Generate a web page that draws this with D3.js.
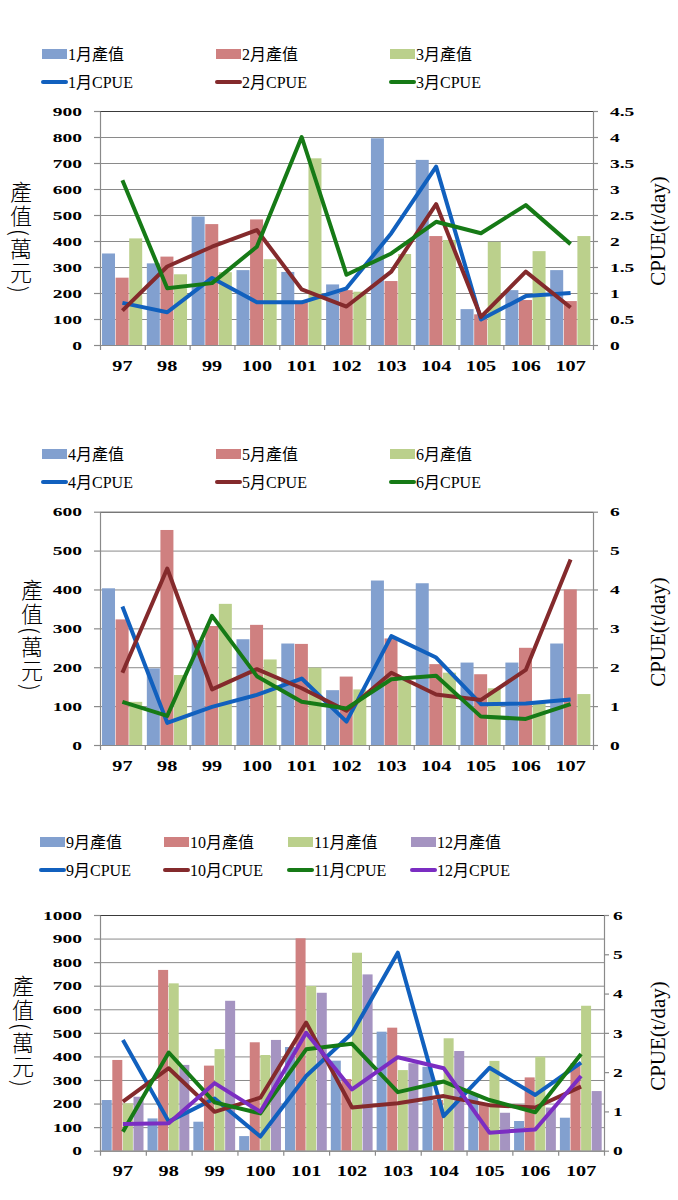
<!DOCTYPE html>
<html><head><meta charset="utf-8">
<script src="https://cdn.jsdelivr.net/npm/d3@7/dist/d3.min.js"></script>
<style>
body{margin:0;background:#fff;}
text{font-family:"Liberation Serif","Noto Sans CJK TC",serif;fill:#000;}
</style></head>
<body>
<script>
const years = ["97","98","99","100","101","102","103","104","105","106","107"];

// Chart 1 (Jan-Mar)
const val1 = [352,314,494,288,281,233,795,712,138,211,288];
const val2 = [259,340,465,483,165,211,246,419,118,173,169];
const val3 = [410,272,280,330,718,205,350,404,397,361,419];
const cpue1 = [0.81,0.63,1.29,0.82,0.82,1.09,2.15,3.43,0.49,0.94,1.00];
const cpue2 = [0.66,1.51,1.89,2.21,1.07,0.74,1.41,2.71,0.54,1.41,0.72];
const cpue3 = [3.17,1.09,1.19,1.89,4.00,1.35,1.76,2.37,2.15,2.69,1.94];

// Chart 2 (Apr-Jun)
const val4 = [403,197,270,272,261,141,423,416,212,212,261];
const val5 = [323,553,306,309,260,176,274,208,182,250,400];
const val6 = [111,180,363,220,199,143,165,186,146,110,131];
const cpue4 = [3.56,0.57,0.98,1.29,1.71,0.60,2.80,2.25,1.05,1.07,1.17];
const cpue5 = [1.86,4.54,1.43,1.95,1.46,0.88,1.86,1.30,1.16,1.93,4.77];
const cpue6 = [1.11,0.75,3.32,1.77,1.11,0.94,1.69,1.78,0.73,0.67,1.05];

// Chart 3 (Sep-Dec)
const val9  = [215,137,123,62,440,382,505,356,240,126,140];
const val10 = [385,767,361,460,901,304,522,215,200,311,371];
const val11 = [201,710,431,406,699,840,342,477,381,399,615];
const val12 = [229,364,636,470,670,748,371,423,161,183,253];
const cpue9  = [2.82,0.74,1.33,0.36,1.90,2.99,5.04,0.88,2.11,1.42,2.24];
const cpue10 = [1.25,2.10,0.99,1.35,3.26,1.10,1.21,1.39,1.16,1.10,1.63];
const cpue11 = [0.48,2.50,1.23,0.95,2.58,2.72,1.49,1.76,1.29,0.98,2.46];
const cpue12 = [0.68,0.70,1.72,0.99,3.00,1.56,2.38,2.10,0.46,0.54,1.90];

const barLabels1 = ["1月產值","2月產值","3月產值"];
const lineLabels1 = ["1月CPUE","2月CPUE","3月CPUE"];
const barLabels2 = ["4月產值","5月產值","6月產值"];
const lineLabels2 = ["4月CPUE","5月CPUE","6月CPUE"];
const barLabels3 = ["9月產值","10月產值","11月產值","12月產值"];
const lineLabels3 = ["9月CPUE","10月CPUE","11月CPUE","12月CPUE"];
const leftTitle = "產值(萬元)";
const rightTitle = "CPUE(t/day)";

const barColors = ["#82A0CF","#CF8080","#BBD08C","#A594C1"];
const lineColors = ["#1160BE","#842A2C","#167A16","#7B2DC2"];

const svg = d3.select("body").append("svg").attr("width",678).attr("height",1200);

function stretchedText(g, x, y, str, opts){
  const gg = g.append("g").attr("transform",`translate(${x},${y})`);
  return gg.append("text")
    .attr("transform",`scale(${opts.sx||1},1)`)
    .attr("text-anchor",opts.anchor||"start")
    .attr("dy",opts.dy||"0")
    .style("font-size",(opts.size||13)+"px")
    .style("font-weight",opts.weight||"normal")
    .text(str);
}

function drawChart(cfg){
  const g = svg.append("g");
  const n = cfg.values.length;
  const x = d3.scaleBand().domain(years).range([cfg.left,cfg.right]).paddingInner(cfg.pad).paddingOuter(cfg.pad/2);
  const xi = d3.scaleBand().domain(d3.range(n)).range([0,x.bandwidth()]);
  const y = d3.scaleLinear().domain([0,cfg.yMax]).range([cfg.bottom,cfg.top]);
  const y2 = d3.scaleLinear().domain([0,cfg.y2Max]).range([cfg.bottom,cfg.top]);
  const yTicks = d3.range(0,cfg.yMax+cfg.yStep/2,cfg.yStep);
  const y2Ticks = d3.range(0,cfg.y2Max+cfg.y2Step/2,cfg.y2Step);
  const w = cfg.right-cfg.left;

  const grid = g.append("g").attr("transform",`translate(${cfg.left},0)`)
    .call(d3.axisRight(y).tickValues(yTicks).tickSize(w).tickFormat(""));
  grid.select(".domain").remove();
  grid.selectAll("line").attr("stroke","#8a8a8a").attr("stroke-width",1);
  grid.selectAll(".tick").filter(d=>d===cfg.yMax).select("line").attr("stroke","#3a3a3a");

  cfg.values.forEach((vals,si)=>{
    g.append("g").selectAll("rect").data(vals).join("rect")
      .attr("x",(d,i)=>x(years[i])+xi(si))
      .attr("y",d=>y(d))
      .attr("width",xi.bandwidth()-0.6)
      .attr("height",d=>y(0)-y(d))
      .attr("fill",barColors[si]);
  });

  const la = g.append("g").attr("transform",`translate(${cfg.left},0)`)
    .call(d3.axisLeft(y).tickValues(yTicks).tickSize(6).tickSizeOuter(0).tickFormat(""));
  const ra = g.append("g").attr("transform",`translate(${cfg.right},0)`)
    .call(d3.axisRight(y2).tickValues(y2Ticks).tickSize(5).tickSizeOuter(0).tickFormat(""));
  const xb = d3.scaleLinear().domain([0,years.length]).range([cfg.left,cfg.right]);
  const ba = g.append("g").attr("transform",`translate(0,${cfg.bottom})`)
    .call(d3.axisBottom(xb).tickValues(d3.range(0,years.length+1)).tickSize(5).tickSizeOuter(0).tickFormat(""));
  [la,ra,ba].forEach(a=>{a.selectAll("path,line").attr("stroke","#8a8a8a").attr("stroke-width",1.2);});

  yTicks.forEach(t=>stretchedText(g,cfg.lLabelX,y(t),d3.format("d")(t),{anchor:"end",sx:1.5,size:13,weight:"bold",dy:"0.36em"}));
  y2Ticks.forEach(t=>stretchedText(g,cfg.rLabelX,y2(t),d3.format("")(t),{anchor:"start",sx:1.5,size:13,weight:"bold",dy:"0.36em"}));
  years.forEach(yr=>stretchedText(g,x(yr)+x.bandwidth()/2,cfg.bottom+25.5,yr,{anchor:"middle",sx:1.35,size:15,weight:"bold"}));

  const line = d3.line().x((d,i)=>x(years[i])+x.bandwidth()/2).y(d=>y2(d));
  cfg.cpues.forEach((c,si)=>{
    g.append("path").datum(c).attr("d",line).attr("fill","none")
      .attr("stroke",lineColors[si]).attr("stroke-width",4)
      .attr("stroke-linejoin","round").attr("stroke-linecap","butt");
  });

  g.append("text").attr("x",cfg.lTitleX).attr("y",cfg.lTitleY)
    .attr("writing-mode","vertical-rl").attr("text-anchor","middle")
    .style("font-family","'Noto Sans CJK TC',sans-serif").style("font-size","22px")
    .style("font-weight","300").style("letter-spacing","2px")
    .text(leftTitle);
  g.append("text").attr("transform",`translate(${cfg.rTitleX},${cfg.rTitleY}) rotate(-90)`)
    .attr("text-anchor","middle").attr("dy","0.35em").style("font-size","21px")
    .text(rightTitle);

  cfg.barLabels.forEach((lab,i)=>{
    const lx = cfg.legX[i];
    g.append("rect").attr("x",lx).attr("y",cfg.legY1-5).attr("width",25).attr("height",10).attr("fill",barColors[i]);
    g.append("text").attr("x",lx+26).attr("y",cfg.legY1+6).style("font-size","16px").text(lab);
  });
  cfg.lineLabels.forEach((lab,i)=>{
    const lx = cfg.legX[i];
    g.append("line").attr("x1",lx+1).attr("x2",lx+24).attr("y1",cfg.legY2).attr("y2",cfg.legY2)
      .attr("stroke",lineColors[i]).attr("stroke-width",4).attr("stroke-linecap","round");
    g.append("text").attr("x",lx+26).attr("y",cfg.legY2+6).style("font-size","16px").text(lab);
  });
}

drawChart({values:[val1,val2,val3],cpues:[cpue1,cpue2,cpue3],barLabels:barLabels1,lineLabels:lineLabels1,
  top:111,bottom:345,left:100,right:593,pad:0.09,yMax:900,yStep:100,y2Max:4.5,y2Step:0.5,
  lLabelX:82,rLabelX:610,lTitleX:21,lTitleY:238,rTitleX:658,rTitleY:231,
  legX:[42,216,390],legY1:54,legY2:82});

drawChart({values:[val4,val5,val6],cpues:[cpue4,cpue5,cpue6],barLabels:barLabels2,lineLabels:lineLabels2,
  top:511.7,bottom:745,left:100,right:593,pad:0.09,yMax:600,yStep:100,y2Max:6,y2Step:1,
  lLabelX:82,rLabelX:610,lTitleX:32,lTitleY:636,rTitleX:658,rTitleY:632,
  legX:[42,216,390],legY1:454,legY2:482});

drawChart({values:[val9,val10,val11,val12],cpues:[cpue9,cpue10,cpue11,cpue12],barLabels:barLabels3,lineLabels:lineLabels3,
  top:915,bottom:1150.7,left:100,right:604,pad:0.075,yMax:1000,yStep:100,y2Max:6,y2Step:1,
  lLabelX:82,rLabelX:613,lTitleX:23,lTitleY:1032,rTitleX:658,rTitleY:1036,
  legX:[40,164,288,411],legY1:842,legY2:870});
</script>
</body></html>
